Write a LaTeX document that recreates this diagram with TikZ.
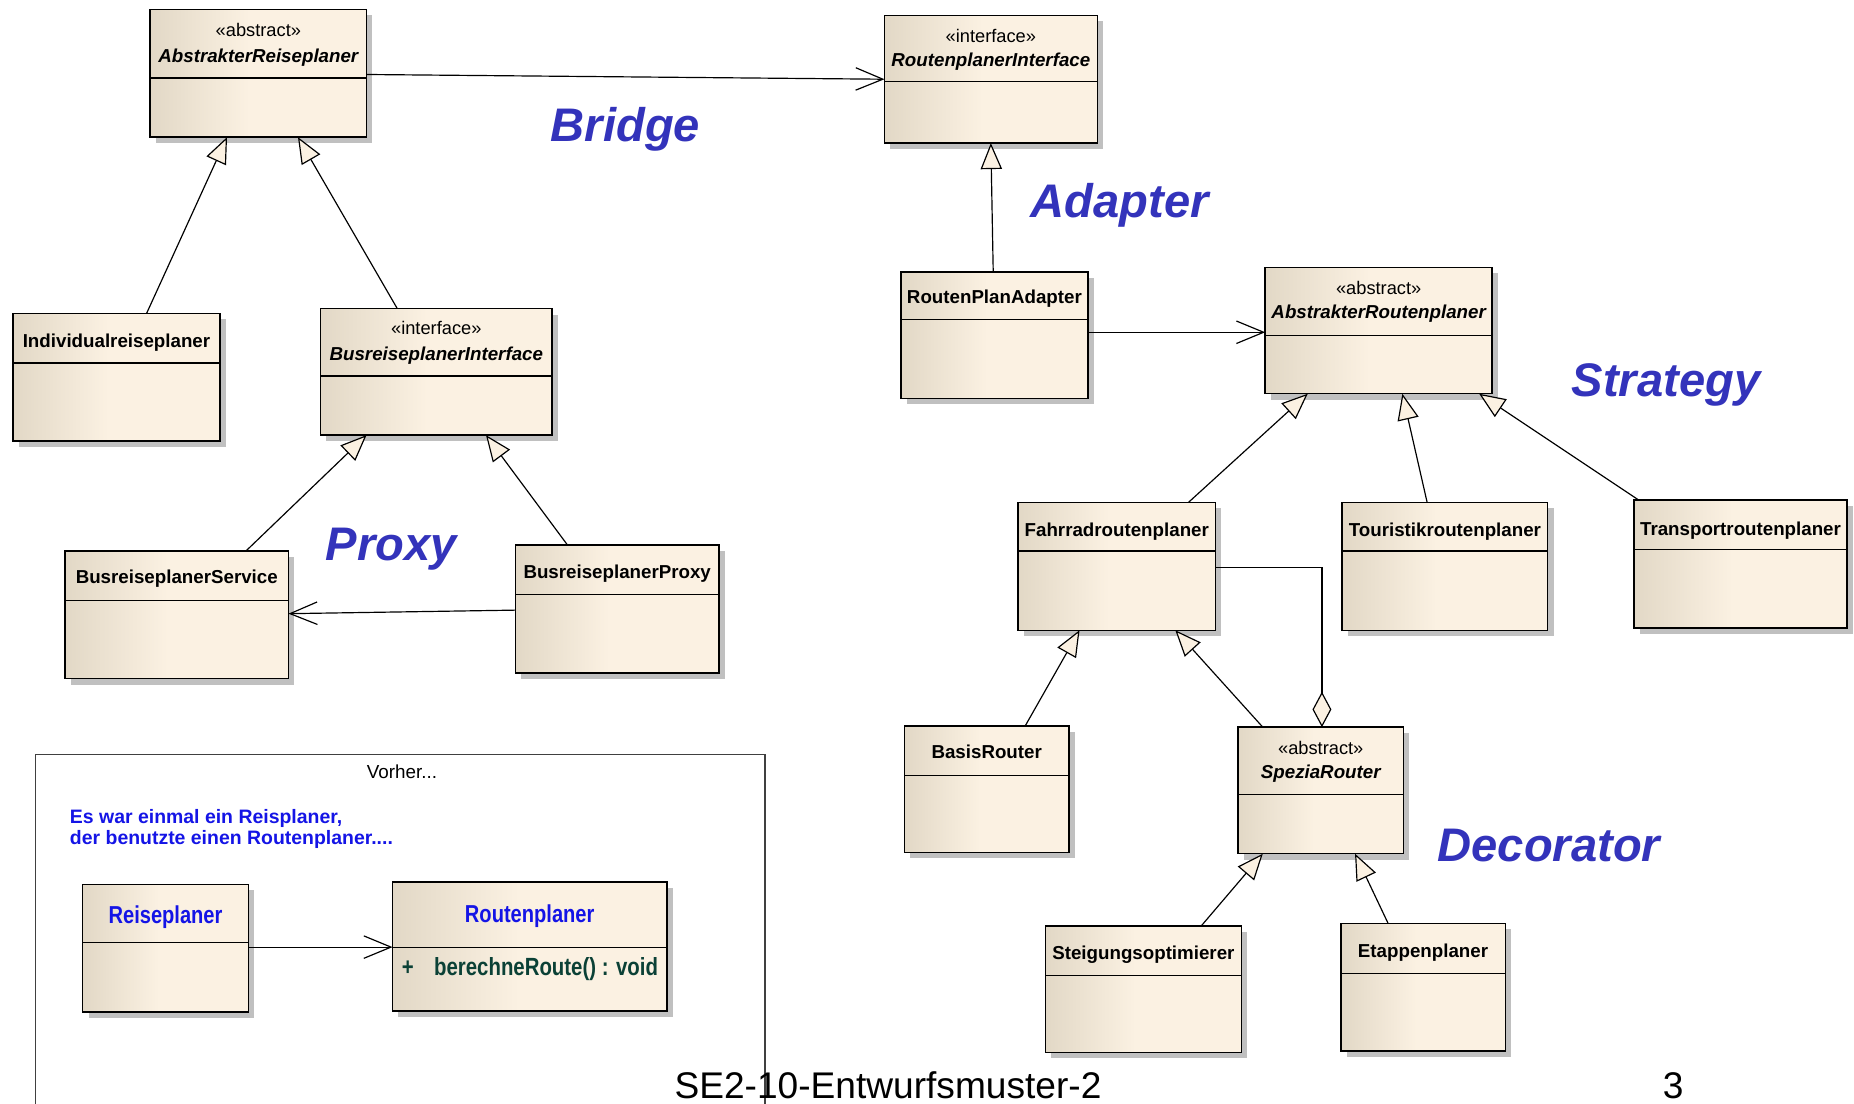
\documentclass[tikz,border=0pt]{standalone}
\usepackage{fontspec}
\setmainfont{Liberation Sans}
\newfontfamily\narrowfont[FakeStretch=0.82]{Liberation Sans}
\usetikzlibrary{arrows.meta,shadows}

\definecolor{boxlight}{HTML}{FBF1E2}
\definecolor{boxdark}{HTML}{E2D8C6}
\definecolor{shadowgray}{HTML}{C0C0C0}
\definecolor{patternblue}{HTML}{3333BB}
\definecolor{noteblue}{HTML}{1414E6}
\definecolor{opteal}{HTML}{0B4136}
\definecolor{framegray}{HTML}{404040}

% beige on the left edge fading into cream
\pgfdeclarehorizontalshading{classfill}{100bp}{color(0bp)=(boxdark); color(25bp)=(boxdark); color(48bp)=(boxlight); color(100bp)=(boxlight)}

\tikzset{
  classbox/.style={draw=black, line width=1.2bp, shade, shading=classfill,
    inner sep=0pt, outer sep=0pt,
    general shadow={fill=shadowgray, shadow xshift=5bp, shadow yshift=-5bp}},
  divider/.style={draw=black, line width=1bp},
  stereo/.style={font=\fontsize{15.5}{17}\selectfont, anchor=base, inner sep=0pt},
  cname/.style={font=\fontsize{15.9}{17}\selectfont\bfseries, anchor=base, inner sep=0pt},
  aname/.style={font=\fontsize{15.9}{17}\selectfont\bfseries\itshape, anchor=base, inner sep=0pt},
  bluename/.style={font=\narrowfont\fontsize{20.8}{23}\selectfont\bfseries, text=noteblue, anchor=base, inner sep=0pt},
  operation/.style={font=\narrowfont\fontsize{21.1}{23}\selectfont\bfseries, text=opteal, anchor=base, inner sep=0pt},
  pattern/.style={font=\fontsize{40}{44}\selectfont\bfseries\itshape, text=patternblue, anchor=base, inner sep=0pt},
  gen/.style={draw=black, line width=1bp,
    -{Triangle[length=22bp, width=18bp, fill=boxlight, line width=1bp]}},
  assoc/.style={draw=black, line width=1bp,
    -{Straight Barb[length=23bp, width=19bp, line width=1bp]}},
  agg/.style={draw=black, line width=1bp,
    -{Diamond[length=30bp, width=16bp, fill=boxlight, line width=1bp]}},
}

% class rectangle: name, x1, y1, x2, y2, y of the compartment line
\newcommand\umlclass[6]{%
  \node[classbox, minimum width={(#4-#2)*1bp}, minimum height={(#5-#3)*1bp}]
    (#1) at ({(#2+#4)/2},{(#3+#5)/2}) {};
  \draw[divider] (#1.west |- 0,#6) -- (#1.east |- 0,#6);
}

\begin{document}
\begin{tikzpicture}[x=1bp, y=-1bp]
\useasboundingbox (0,0) rectangle (1568,933);
\fill[white] (0,0) rectangle (1568,933);

% frame of the earlier design
\draw[framegray, line width=1bp] (30,940) -- (30,638) -- (647,638) -- (647,940);
\node[font=\fontsize{16}{17}\selectfont, anchor=base, inner sep=0pt] (vorher) at (340,658) {Vorher...};
\node[font=\fontsize{16.5}{18.5}\selectfont\bfseries, text=noteblue, anchor=north west, inner sep=0pt, align=left] (note) at (59,684)
  {Es war einmal ein Reisplaner,\\der benutzte einen Routenplaner....};

% classes
\umlclass{AR}{127}{8}{310}{116}{66}
\umlclass{RI}{748}{13}{928}{121}{69}
\umlclass{IR}{11}{265}{186}{373}{307}
\umlclass{BI}{271}{261}{467}{368}{318}
\umlclass{BS}{55}{466}{244}{574}{508}
\umlclass{BP}{436}{461}{608}{569}{503}
\umlclass{RA}{762}{230}{920}{337}{270}
\umlclass{ARo}{1070}{226}{1262}{333}{284}
\umlclass{FR}{861}{425}{1028}{533}{466}
\umlclass{TR}{1135}{425}{1309}{533}{466}
\umlclass{TP}{1382}{423}{1562}{531}{465}
\umlclass{BR}{765}{614}{904}{721}{656}
\umlclass{SR}{1047}{615}{1187}{722}{672}
\umlclass{SO}{884}{783}{1050}{890}{825}
\umlclass{EP}{1134}{781}{1273}{889}{823}
\umlclass{Rp}{70}{748}{210}{856}{797}
\umlclass{Rt}{332}{746}{564}{855}{801}

% class texts
\node[stereo] (ARst) at (218.5,31) {«abstract»};
\node[aname] (ARnm) at (218.5,52.5) {AbstrakterReiseplaner};
\node[stereo] (RIst) at (838,36) {«interface»};
\node[aname] (RInm) at (838,56.5) {RoutenplanerInterface};
\node[cname] (IRnm) at (98.5,293.5) {Individualreiseplaner};
\node[stereo] (BIst) at (369,283) {«interface»};
\node[aname] (BInm) at (369,304.5) {BusreiseplanerInterface};
\node[cname] (BSnm) at (149.5,493.5) {BusreiseplanerService};
\node[cname] (BPnm) at (522,489.5) {BusreiseplanerProxy};
\node[cname] (RAnm) at (841,256.5) {RoutenPlanAdapter};
\node[stereo] (AROst) at (1166,249) {«abstract»};
\node[aname] (AROnm) at (1166,269.5) {AbstrakterRoutenplaner};
\node[cname] (FRnm) at (944.5,453.5) {Fahrradroutenplaner};
\node[cname] (TRnm) at (1222,453.5) {Touristikroutenplaner};
\node[cname] (TPnm) at (1472,452.5) {Transportroutenplaner};
\node[cname] (BRnm) at (834.5,641.5) {BasisRouter};
\node[stereo] (SRst) at (1117,638) {«abstract»};
\node[aname] (SRnm) at (1117,658.5) {SpeziaRouter};
\node[cname] (SOnm) at (967,811.5) {Steigungsoptimierer};
\node[cname] (EPnm) at (1203.5,809.5) {Etappenplaner};
\node[bluename] (Rpnm) at (140,781) {Reiseplaner};
\node[bluename] (Rtnm) at (448,780) {Routenplaner};
\node[operation] (Rtvis) at (345,825) {+};
\node[operation, anchor=base west] (Rtop) at (367,825) {berechneRoute() : void};

% relationships
\draw[assoc] (AR.east |- 0,63) -- (RI.west |- 0,67);
\draw[gen] (124,0 |- IR.north) -- (192,0 |- AR.south);
\draw[gen] (336,0 |- BI.north) -- (252,0 |- AR.south);
\draw[gen] (208,0 |- BS.north) -- (310,0 |- BI.south);
\draw[gen] (480,0 |- BP.north) -- (411,0 |- BI.south);
\draw[assoc] (BP.west |- 0,516) -- (BS.east |- 0,519);
\draw[gen] (840,0 |- RA.north) -- (838,0 |- RI.south);
\draw[assoc] (RA.east |- 0,281) -- (ARo.west |- 0,281);
\draw[gen] (1005,0 |- FR.north) -- (1106,0 |- ARo.south);
\draw[gen] (1207,0 |- TR.north) -- (1186,0 |- ARo.south);
\draw[gen] (1386,0 |- TP.north) -- (1251,0 |- ARo.south);
\draw[gen] (867,0 |- BR.north) -- (913,0 |- FR.south);
\draw[gen] (1068,0 |- SR.north) -- (994,0 |- FR.south);
\draw[agg] (FR.east |- 0,480) -| (1118,0 |- SR.north);
\draw[gen] (1016,0 |- SO.north) -- (1068,0 |- SR.south);
\draw[gen] (1174,0 |- EP.north) -- (1146,0 |- SR.south);
\draw[assoc] (Rp.east |- 0,801) -- (Rt.west |- 0,801);

% pattern names
\node[pattern] (bridge) at (529,120) {Bridge};
\node[pattern] (adapter) at (947,184) {Adapter};
\node[pattern] (strategy) at (1409,335) {Strategy};
\node[pattern] (proxy) at (331,474) {Proxy};
\node[pattern] (decorator) at (1310,729) {Decorator};

% footer
\node[font=\fontsize{31.5}{34}\selectfont, anchor=base, inner sep=0pt] (title) at (751,929) {SE2-10-Entwurfsmuster-2};
\node[font=\fontsize{31.5}{34}\selectfont, anchor=base, inner sep=0pt] (page) at (1415,929) {3};
\end{tikzpicture}
\end{document}
